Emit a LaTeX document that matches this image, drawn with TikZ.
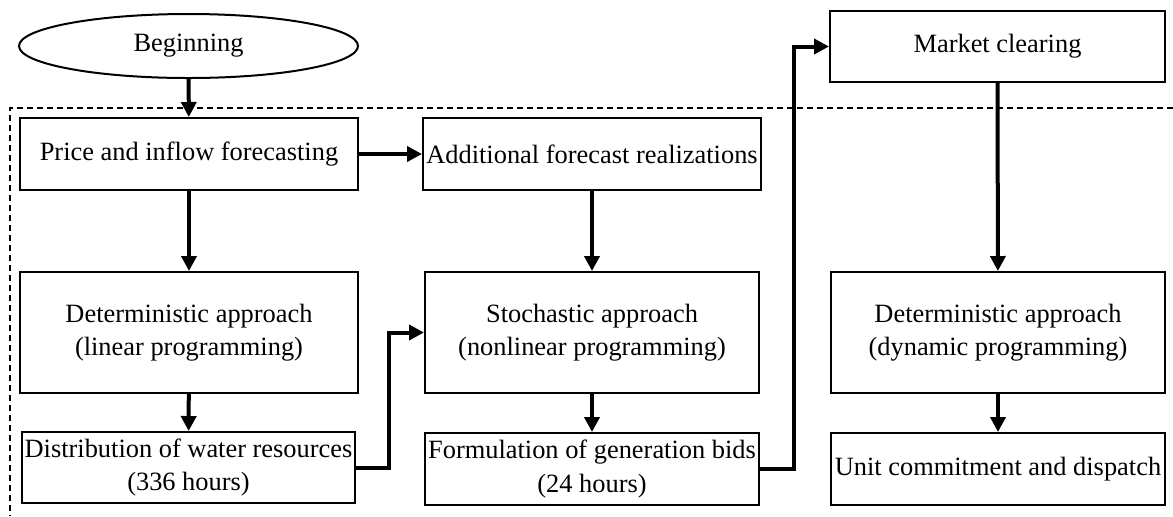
\documentclass[tikz,border=0pt]{standalone}
\usepackage{fontspec}
\setmainfont{Liberation Serif}
\usetikzlibrary{shapes.geometric, arrows.meta}
\tikzset{
every picture/.style={
line width=1pt
}}

\begin{document}
\begin{tikzpicture}[x=0.5pt, y=-0.5pt,
block/.style = {rectangle, draw=black, align=center, inner sep=0pt,
  font=\fontsize{13.2}{16.8}\selectfont},
start/.style = {ellipse, draw=black, inner sep=0pt,
  font=\fontsize{13.2}{16.8}\selectfont},
flow/.style = {line width=2pt, -{Triangle[length=7.5pt, width=7.5pt]}},
frame/.style = {line width=0.6pt, dash pattern=on 3pt off 2pt}]

  \useasboundingbox (0,0) rectangle (1173,516);

  % dashed frame (open to the right and bottom)
  \coordinate (fr_top) at (1173,108);
  \coordinate (fr_corner) at (10,108);
  \coordinate (fr_bottom) at (10,516);
  \draw[frame] (fr_top) -- (fr_corner) -- (fr_bottom);

  \node[start] (begin) at (188.5,46) [minimum width=169.5pt, minimum height=32pt] {Beginning};

  \node[block] (price) at (189,154) [minimum width=169pt, minimum height=36pt] {Price and inflow forecasting};
  \node[block] (addl) at (592,154) [minimum width=169pt, minimum height=36pt] {Additional forecast realizations};
  \node[block] (market) at (997.5,46.5) [minimum width=167.5pt, minimum height=35.5pt] {Market clearing};

  \node[block] (det_lin) at (189,332.5) [minimum width=169pt, minimum height=60.5pt] {Deterministic approach\\(linear programming)};
  \node[block] (stoch) at (592,332.5) [minimum width=167pt, minimum height=60.5pt] {Stochastic approach\\(nonlinear programming)};
  \node[block] (det_dyn) at (998,332.5) [minimum width=167pt, minimum height=60.5pt] {Deterministic approach\\(dynamic programming)};

  \node[block] (distr) at (188.5,467.5) [minimum width=166.5pt, minimum height=35.5pt] {Distribution of water resources\\(336 hours)};
  \node[block] (bids) at (592,469) [minimum width=167pt, minimum height=36pt] {Formulation of generation bids\\(24 hours)};
  \node[block] (unit) at (998,469) [minimum width=167pt, minimum height=36pt] {Unit commitment and dispatch};

  \draw[flow] (begin) -- (price);
  \draw[flow] (price) -- (addl);
  \draw[flow] (price) -- (det_lin);
  \draw[flow] (addl) -- (stoch);
  \draw[flow] (det_lin) -- (distr);
  \draw[flow] (stoch) -- (bids);
  \draw[flow] (market) -- (det_dyn);
  \draw[flow] (det_dyn) -- (unit);

  \draw[flow] (distr.east) -- ++(33,0) |- (stoch.west);
  \draw[flow] (bids.east) -- ++(34,0) |- (market.west);

\end{tikzpicture}
\end{document}
